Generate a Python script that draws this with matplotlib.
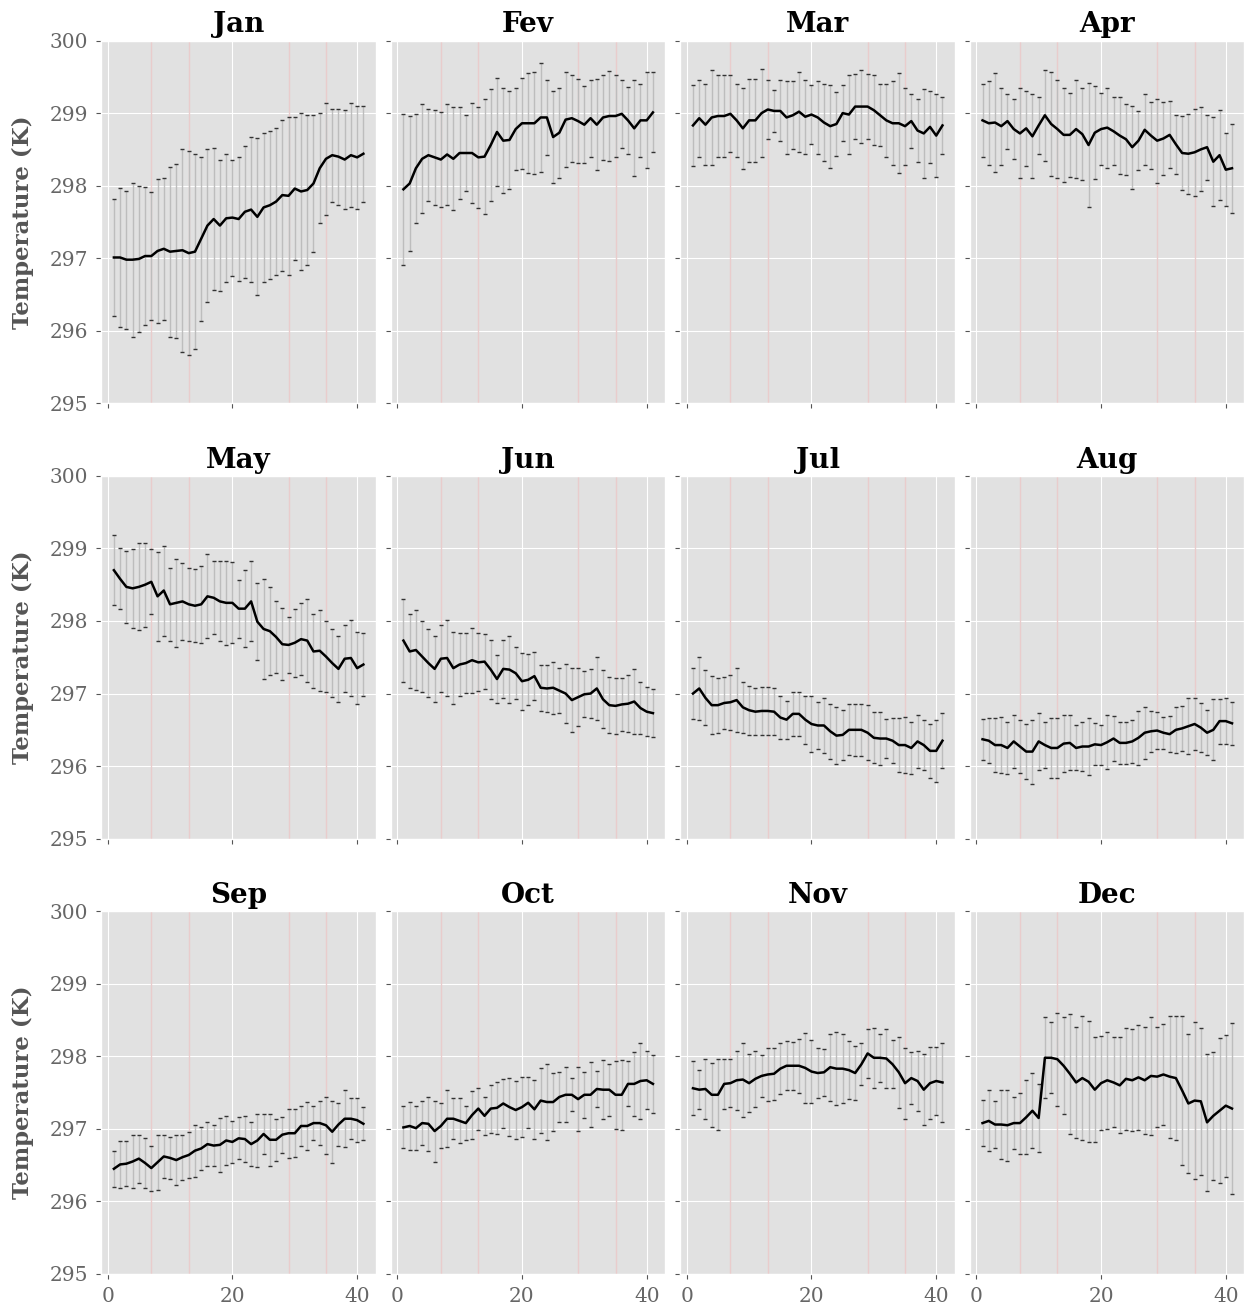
import numpy as np
import matplotlib.pyplot as plt

plt.style.use("ggplot")
plt.rcParams["font.family"] = "DejaVu Serif"

days = np.arange(1, 42)
months = ["Jan", "Fev", "Mar", "Apr", "May", "Jun",
          "Jul", "Aug", "Sep", "Oct", "Nov", "Dec"]
marks = [7, 13, 29, 35]

jan_mean = [297.01, 297.01, 296.98, 296.98, 296.99, 297.03, 297.03, 297.1, 297.13, 297.09, 297.1, 297.11, 297.07, 297.09,
            297.27, 297.45, 297.54, 297.45, 297.55, 297.56, 297.54, 297.64, 297.67, 297.57, 297.7, 297.73, 297.78, 297.87,
            297.86, 297.96, 297.92, 297.94, 298.03, 298.24, 298.37, 298.42, 298.4, 298.36, 298.42, 298.39, 298.44]
jan_sd = [0.8, 0.96, 0.95, 1.06, 1.01, 0.95, 0.88, 0.99, 0.98, 1.17, 1.2, 1.4, 1.41, 1.34, 1.13, 1.05, 0.98, 0.9, 0.88,
          0.8, 0.86, 0.91, 1.0, 1.08, 1.03, 1.02, 1.01, 1.04, 1.09, 0.99, 1.08, 1.04, 0.95, 0.76, 0.77, 0.64, 0.66, 0.68,
          0.72, 0.71, 0.66]

fev_mean = [297.95, 298.03, 298.24, 298.37, 298.42, 298.39, 298.36, 298.43, 298.37, 298.45, 298.45, 298.45, 298.39, 298.4,
            298.56, 298.74, 298.62, 298.63, 298.78, 298.86, 298.86, 298.86, 298.94, 298.94, 298.67, 298.73, 298.91, 298.93,
            298.89, 298.84, 298.93, 298.84, 298.94, 298.96, 298.96, 298.99, 298.9, 298.79, 298.9, 298.9, 299.01]
fev_sd = [1.04, 0.93, 0.75, 0.75, 0.63, 0.65, 0.66, 0.7, 0.71, 0.64, 0.53, 0.69, 0.7, 0.79, 0.77, 0.75, 0.72, 0.68, 0.56,
          0.63, 0.69, 0.7, 0.75, 0.52, 0.63, 0.62, 0.65, 0.6, 0.58, 0.53, 0.53, 0.63, 0.59, 0.62, 0.56, 0.47, 0.46, 0.66,
          0.5, 0.66, 0.55]

mar_mean = [298.83, 298.93, 298.84, 298.94, 298.96, 298.96, 298.99, 298.9, 298.79, 298.9, 298.9, 299.0, 299.05, 299.03,
            299.03, 298.94, 298.97, 299.02, 298.95, 298.98, 298.94, 298.87, 298.82, 298.85, 299.0, 298.98, 299.09, 299.09,
            299.09, 299.04, 298.97, 298.9, 298.86, 298.86, 298.82, 298.89, 298.76, 298.72, 298.81, 298.69, 298.83]
mar_sd = [0.56, 0.53, 0.56, 0.66, 0.57, 0.56, 0.53, 0.5, 0.56, 0.57, 0.57, 0.61, 0.41, 0.29, 0.42, 0.5, 0.47, 0.55, 0.51,
          0.41, 0.5, 0.53, 0.57, 0.44, 0.39, 0.54, 0.45, 0.5, 0.45, 0.48, 0.43, 0.5, 0.58, 0.69, 0.53, 0.37, 0.43, 0.61,
          0.5, 0.57, 0.39]

apr_mean = [298.9, 298.86, 298.87, 298.82, 298.89, 298.78, 298.72, 298.79, 298.68, 298.83, 298.97, 298.85, 298.78, 298.7,
            298.7, 298.78, 298.71, 298.56, 298.73, 298.78, 298.8, 298.75, 298.69, 298.64, 298.53, 298.62, 298.77, 298.69,
            298.62, 298.65, 298.7, 298.57, 298.45, 298.44, 298.46, 298.5, 298.53, 298.33, 298.42, 298.22, 298.24]
apr_sd = [0.5, 0.58, 0.68, 0.53, 0.38, 0.41, 0.62, 0.52, 0.58, 0.39, 0.63, 0.72, 0.68, 0.65, 0.58, 0.68, 0.63, 0.86, 0.64,
          0.5, 0.55, 0.47, 0.53, 0.49, 0.57, 0.41, 0.49, 0.46, 0.58, 0.5, 0.46, 0.41, 0.51, 0.55, 0.6, 0.58, 0.45, 0.61,
          0.62, 0.5, 0.61]

may_mean = [298.7, 298.58, 298.47, 298.45, 298.47, 298.5, 298.54, 298.34, 298.42, 298.23, 298.25, 298.27, 298.23, 298.21,
            298.23, 298.34, 298.32, 298.27, 298.25, 298.25, 298.17, 298.17, 298.27, 297.99, 297.89, 297.86, 297.78, 297.68,
            297.67, 297.7, 297.75, 297.73, 297.58, 297.59, 297.51, 297.42, 297.34, 297.48, 297.49, 297.35, 297.4]
may_sd = [0.48, 0.42, 0.5, 0.54, 0.6, 0.58, 0.45, 0.61, 0.62, 0.5, 0.61, 0.53, 0.5, 0.5, 0.53, 0.58, 0.5, 0.55, 0.58,
          0.56, 0.4, 0.53, 0.55, 0.53, 0.69, 0.61, 0.49, 0.5, 0.39, 0.47, 0.5, 0.57, 0.51, 0.56, 0.49, 0.47, 0.46, 0.46,
          0.53, 0.5, 0.44]

jun_mean = [297.73, 297.58, 297.6, 297.51, 297.42, 297.34, 297.48, 297.49, 297.35, 297.4, 297.42, 297.46, 297.43, 297.44,
            297.33, 297.2, 297.34, 297.33, 297.28, 297.17, 297.19, 297.24, 297.08, 297.07, 297.08, 297.04, 297.0, 296.91,
            296.95, 296.99, 297.0, 297.07, 296.92, 296.84, 296.83, 296.85, 296.86, 296.89, 296.8, 296.75, 296.73]
jun_sd = [0.57, 0.51, 0.55, 0.49, 0.47, 0.46, 0.46, 0.53, 0.5, 0.44, 0.41, 0.45, 0.4, 0.38, 0.41, 0.33, 0.4, 0.46, 0.36,
          0.39, 0.35, 0.33, 0.32, 0.33, 0.36, 0.31, 0.41, 0.44, 0.4, 0.32, 0.34, 0.44, 0.4, 0.39, 0.39, 0.37, 0.39, 0.45,
          0.36, 0.34, 0.33]

jul_mean = [297.0, 297.07, 296.94, 296.84, 296.84, 296.87, 296.88, 296.91, 296.81, 296.77, 296.75, 296.76, 296.76, 296.75,
            296.67, 296.64, 296.72, 296.72, 296.64, 296.58, 296.56, 296.56, 296.48, 296.42, 296.43, 296.5, 296.5, 296.5,
            296.46, 296.39, 296.38, 296.38, 296.35, 296.29, 296.29, 296.25, 296.34, 296.29, 296.21, 296.21, 296.35]
jul_sd = [0.35, 0.44, 0.38, 0.4, 0.38, 0.36, 0.38, 0.44, 0.35, 0.34, 0.32, 0.33, 0.33, 0.32, 0.29, 0.26, 0.3, 0.3, 0.33,
          0.38, 0.32, 0.38, 0.38, 0.39, 0.35, 0.35, 0.36, 0.36, 0.38, 0.35, 0.36, 0.27, 0.31, 0.37, 0.39, 0.36, 0.36, 0.35,
          0.37, 0.43, 0.38]

aug_mean = [296.37, 296.35, 296.29, 296.29, 296.25, 296.34, 296.27, 296.2, 296.2, 296.34, 296.29, 296.25, 296.25, 296.31,
            296.32, 296.25, 296.27, 296.27, 296.3, 296.29, 296.33, 296.38, 296.32, 296.32, 296.34, 296.39, 296.46, 296.48,
            296.49, 296.46, 296.44, 296.5, 296.52, 296.55, 296.58, 296.53, 296.46, 296.5, 296.62, 296.62, 296.59]
aug_sd = [0.28, 0.31, 0.37, 0.39, 0.36, 0.36, 0.36, 0.38, 0.44, 0.39, 0.32, 0.41, 0.41, 0.39, 0.38, 0.31, 0.34, 0.39, 0.29,
          0.28, 0.37, 0.31, 0.29, 0.29, 0.3, 0.37, 0.36, 0.28, 0.25, 0.22, 0.25, 0.32, 0.31, 0.39, 0.36, 0.34, 0.31, 0.42,
          0.31, 0.32, 0.3]

sep_mean = [296.45, 296.51, 296.52, 296.55, 296.59, 296.53, 296.46, 296.54, 296.62, 296.6, 296.57, 296.61, 296.64, 296.7,
            296.73, 296.79, 296.77, 296.78, 296.84, 296.82, 296.87, 296.86, 296.79, 296.84, 296.93, 296.85, 296.85, 296.92,
            296.94, 296.94, 297.04, 297.04, 297.08, 297.08, 297.05, 296.96, 297.06, 297.14, 297.14, 297.12, 297.07]
sep_sd = [0.25, 0.32, 0.31, 0.37, 0.33, 0.35, 0.31, 0.38, 0.3, 0.29, 0.35, 0.31, 0.32, 0.36, 0.29, 0.3, 0.28, 0.37, 0.34,
          0.29, 0.29, 0.32, 0.3, 0.37, 0.28, 0.36, 0.29, 0.25, 0.34, 0.33, 0.27, 0.33, 0.23, 0.3, 0.39, 0.43, 0.29, 0.39,
          0.28, 0.3, 0.23]

oct_mean = [297.02, 297.04, 297.01, 297.08, 297.07, 296.97, 297.04, 297.14, 297.14, 297.11, 297.08, 297.19, 297.28, 297.18,
            297.28, 297.29, 297.35, 297.3, 297.26, 297.3, 297.36, 297.27, 297.39, 297.37, 297.37, 297.44, 297.47, 297.47,
            297.41, 297.47, 297.47, 297.55, 297.54, 297.54, 297.47, 297.47, 297.62, 297.62, 297.66, 297.67, 297.62]
oct_sd = [0.29, 0.33, 0.3, 0.3, 0.37, 0.42, 0.31, 0.39, 0.28, 0.31, 0.23, 0.33, 0.29, 0.26, 0.33, 0.36, 0.34, 0.4, 0.4,
          0.41, 0.35, 0.41, 0.45, 0.53, 0.4, 0.35, 0.38, 0.23, 0.44, 0.32, 0.45, 0.25, 0.41, 0.36, 0.47, 0.48, 0.31, 0.44,
          0.52, 0.4, 0.4]

nov_mean = [297.56, 297.54, 297.55, 297.47, 297.47, 297.62, 297.63, 297.67, 297.68, 297.63, 297.69, 297.73, 297.75, 297.76,
            297.83, 297.87, 297.87, 297.87, 297.84, 297.79, 297.77, 297.78, 297.85, 297.83, 297.83, 297.81, 297.77, 297.89,
            298.04, 297.98, 297.98, 297.97, 297.89, 297.78, 297.63, 297.7, 297.66, 297.54, 297.63, 297.66, 297.64]
nov_sd = [0.37, 0.27, 0.42, 0.44, 0.49, 0.35, 0.33, 0.41, 0.51, 0.4, 0.39, 0.29, 0.37, 0.36, 0.35, 0.34, 0.33, 0.37, 0.48,
          0.44, 0.35, 0.32, 0.46, 0.5, 0.48, 0.4, 0.37, 0.29, 0.34, 0.41, 0.33, 0.41, 0.33, 0.49, 0.49, 0.36, 0.42, 0.49,
          0.5, 0.47, 0.55]

dec_mean = [297.08, 297.11, 297.06, 297.06, 297.05, 297.08, 297.08, 297.16, 297.25, 297.15, 297.98, 297.98, 297.96, 297.87,
            297.76, 297.64, 297.7, 297.65, 297.54, 297.63, 297.67, 297.64, 297.6, 297.69, 297.67, 297.71, 297.67, 297.73,
            297.72, 297.75, 297.72, 297.7, 297.53, 297.35, 297.39, 297.38, 297.09, 297.18, 297.25, 297.32, 297.28]
dec_sd = [0.32, 0.42, 0.33, 0.48, 0.49, 0.36, 0.42, 0.51, 0.52, 0.47, 0.56, 0.49, 0.64, 0.67, 0.83, 0.77, 0.85, 0.83, 0.72,
          0.65, 0.67, 0.62, 0.66, 0.7, 0.7, 0.72, 0.74, 0.81, 0.69, 0.69, 0.84, 0.85, 1.03, 0.96, 1.08, 1.01, 0.94, 0.88,
          1.0, 0.98, 1.18]

means = [jan_mean, fev_mean, mar_mean, apr_mean, may_mean, jun_mean,
         jul_mean, aug_mean, sep_mean, oct_mean, nov_mean, dec_mean]
sds = [jan_sd, fev_sd, mar_sd, apr_sd, may_sd, jun_sd,
       jul_sd, aug_sd, sep_sd, oct_sd, nov_sd, dec_sd]

fig, axes = plt.subplots(3, 4, figsize=(12.52, 13.08), sharex=True, sharey=True)
fig.subplots_adjust(left=0.081, right=0.994, top=0.969, bottom=0.026, wspace=0.055, hspace=0.2)

for i, ax in enumerate(axes.flat):
    ax.set_facecolor("#E1E1E1")
    for m in marks:
        ax.axvline(m, color="#e9cccc", lw=1)
    eb = ax.errorbar(days, means[i], yerr=sds[i], fmt="none", ecolor="#bdbdbd",
                     elinewidth=1, capsize=1.2, capthick=1)
    for cap in eb[1]:
        cap.set_markeredgecolor("#333333")
    ax.plot(days, means[i], color="black", lw=1.8)
    ax.set_title(months[i], fontsize=20, fontweight="bold", color="black", pad=6)
    ax.tick_params(labelsize=14.5, colors="#555555", pad=6)
    ax.tick_params(labelcolor="#666666")
    if i % 4 == 0:
        ax.set_ylabel("Temperature (K)", fontsize=16.5, fontweight="bold", color="#555555", labelpad=11)

ax = axes[0, 0]
ax.set_ylim(295, 300)
ax.set_yticks([295, 296, 297, 298, 299, 300])
ax.set_xticks([0, 20, 40])

fig.savefig("out.png", dpi=100)
